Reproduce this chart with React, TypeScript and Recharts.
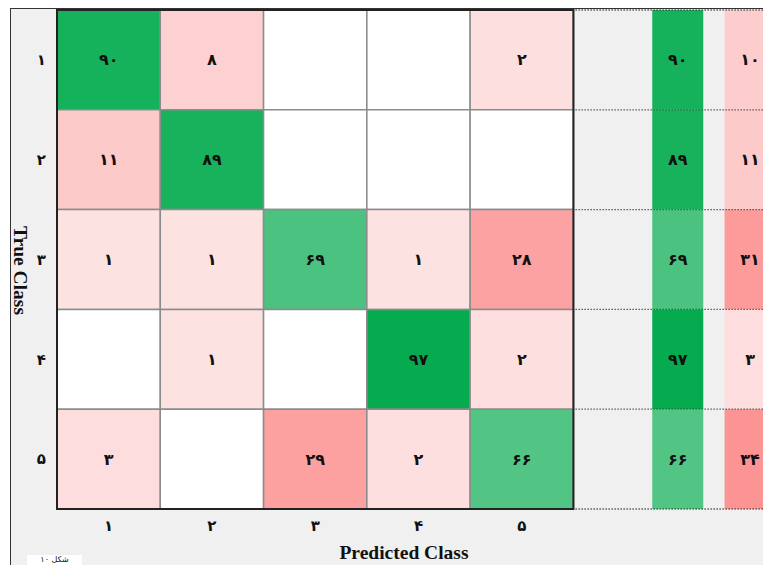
import {
	ReferenceArea,
	ReferenceLine,
	Scatter,
	ScatterChart,
	XAxis,
	YAxis,
} from "recharts";

// rows = true class, columns = predicted class
const classes = [1, 2, 3, 4, 5];
const counts = [
	[90, 8, 0, 0, 2],
	[11, 89, 0, 0, 0],
	[1, 1, 69, 1, 28],
	[0, 1, 0, 97, 2],
	[3, 0, 29, 2, 66],
];
const truePositiveRate = [90, 89, 69, 97, 66];
const falseNegativeRate = [10, 11, 31, 3, 34];

const CHART_W = 769;
const CHART_H = 556;
const TPR_X = 6.51;
const FNR_X = 7.21;
const SUMMARY_HALF = 0.247;
const DIGIT_FONT = "'DejaVu Sans', sans-serif";
const TITLE_FONT = "'Liberation Serif', 'Times New Roman', serif";

const faDigits = "۰۱۲۳۴۵۶۷۸۹";
const toFa = (n: number | string) =>
	String(n).replace(/\d/g, (d) => faDigits[Number(d)]);

function greenFor(v: number) {
	const t = v - 66;
	const r = Math.round(82 - 2.48 * t);
	const g = Math.round(197 - 0.84 * t);
	const b = Math.round(133 - 1.77 * t);
	return `rgb(${r},${g},${b})`;
}

function pinkFor(v: number) {
	if (v === 0) return "#ffffff";
	const c = Math.round(228 - 2.35 * v);
	return `rgb(253,${c},${c})`;
}

interface LabelPoint {
	x: number;
	y: number;
	label: string;
}

const labelPoints: LabelPoint[] = [];
counts.forEach((row, r) =>
	row.forEach((v, c) => {
		if (v > 0) labelPoints.push({ x: c + 1, y: r + 1, label: toFa(v) });
	}),
);
truePositiveRate.forEach((v, r) =>
	labelPoints.push({ x: TPR_X, y: r + 1, label: toFa(v) }),
);
falseNegativeRate.forEach((v, r) =>
	labelPoints.push({ x: FNR_X, y: r + 1, label: toFa(v) }),
);

function CellText(props: any) {
	const { cx, cy, payload } = props;
	return (
		<text
			x={cx}
			y={cy}
			textAnchor="middle"
			dominantBaseline="central"
			fontFamily={DIGIT_FONT}
			fontWeight="bold"
			fontSize={16}
			fill="#111"
		>
			{payload.label}
		</text>
	);
}

const boundaries = [0.5, 1.5, 2.5, 3.5, 4.5, 5.5];

export default function App() {
	return (
		<div
			style={{
				position: "fixed",
				left: 10,
				top: 8,
				width: 753,
				height: 557,
				overflow: "hidden",
				background: "#f0f0f0",
				borderLeft: "1px solid #333",
				borderTop: "1px solid #333",
				boxSizing: "border-box",
			}}
		>
			<div style={{ position: "absolute", left: 0, top: 0 }}>
				<ScatterChart
					width={CHART_W}
					height={CHART_H}
					margin={{ top: 1, right: 0, left: 0, bottom: 16 }}
				>
					<XAxis
						type="number"
						dataKey="x"
						domain={[0.5, 7.5]}
						ticks={classes}
						tickFormatter={toFa}
						axisLine={false}
						tickLine={false}
						tickSize={0}
						tickMargin={11}
						height={40}
						tick={{
							fontFamily: DIGIT_FONT,
							fontSize: 15,
							fontWeight: "bold",
							fill: "#111",
						}}
						label={{
							content: ({ viewBox }: any) => (
								<text
									x={viewBox.x + 347}
									y={viewBox.y + 43}
									textAnchor="middle"
									dominantBaseline="central"
									fontFamily={TITLE_FONT}
									fontWeight="bold"
									fontSize={19.5}
									fill="#111"
								>
									Predicted Class
								</text>
							),
						}}
					/>
					<YAxis
						type="number"
						dataKey="y"
						domain={[0.5, 5.5]}
						reversed
						ticks={classes}
						tickFormatter={toFa}
						axisLine={false}
						tickLine={false}
						tickSize={0}
						tickMargin={11}
						width={46}
						tick={{
							fontFamily: DIGIT_FONT,
							fontSize: 15,
							fontWeight: "bold",
							fill: "#111",
						}}
						label={{
							content: ({ viewBox }: any) => {
								const x = 9;
								const y = viewBox.y + viewBox.height / 2 + 11;
								return (
									<text
										x={x}
										y={y}
										transform={`rotate(90 ${x} ${y})`}
										textAnchor="middle"
										dominantBaseline="central"
										fontFamily={TITLE_FONT}
										fontWeight="bold"
										fontSize={19.5}
										fill="#111"
									>
										True Class
									</text>
								);
							},
						}}
					/>
					{counts.map((row, r) =>
						row.map((v, c) => (
							<ReferenceArea
								key={`cell-${r}-${c}`}
								x1={c + 0.5}
								x2={c + 1.5}
								y1={r + 0.5}
								y2={r + 1.5}
								fill={r === c ? greenFor(v) : pinkFor(v)}
								fillOpacity={1}
								stroke="#8c8c8c"
								strokeWidth={1.5}
							/>
						)),
					)}
					<ReferenceArea
						x1={0.5}
						x2={5.5}
						y1={0.5}
						y2={5.5}
						fill="none"
						stroke="#222"
						strokeWidth={2}
					/>
					{truePositiveRate.map((v, r) => (
						<ReferenceArea
							key={`tpr-${r}`}
							x1={TPR_X - SUMMARY_HALF}
							x2={TPR_X + SUMMARY_HALF}
							y1={r + 0.5}
							y2={r + 1.5}
							fill={greenFor(v)}
							fillOpacity={1}
						/>
					))}
					{falseNegativeRate.map((v, r) => (
						<ReferenceArea
							key={`fnr-${r}`}
							x1={FNR_X - SUMMARY_HALF}
							x2={FNR_X + SUMMARY_HALF}
							y1={r + 0.5}
							y2={r + 1.5}
							fill={pinkFor(v)}
							fillOpacity={1}
						/>
					))}
					{boundaries.map((b) => (
						<ReferenceLine
							key={`dot-${b}`}
							segment={[
								{ x: 5.52, y: b },
								{ x: 7.5, y: b },
							]}
							stroke="#444"
							strokeWidth={1.3}
							strokeDasharray="1.3 1.7"
						/>
					))}
					<Scatter
						data={labelPoints}
						shape={<CellText />}
						isAnimationActive={false}
					/>
				</ScatterChart>
			</div>
			<div
				style={{
					position: "absolute",
					left: 16,
					top: 546,
					width: 55,
					height: 10,
					background: "#fff",
					fontFamily: "'DejaVu Sans', sans-serif",
					fontSize: 8,
					lineHeight: "10px",
					direction: "rtl",
					textAlign: "center",
					color: "#111",
				}}
			>
				شکل ۱۰
			</div>
		</div>
	);
}
